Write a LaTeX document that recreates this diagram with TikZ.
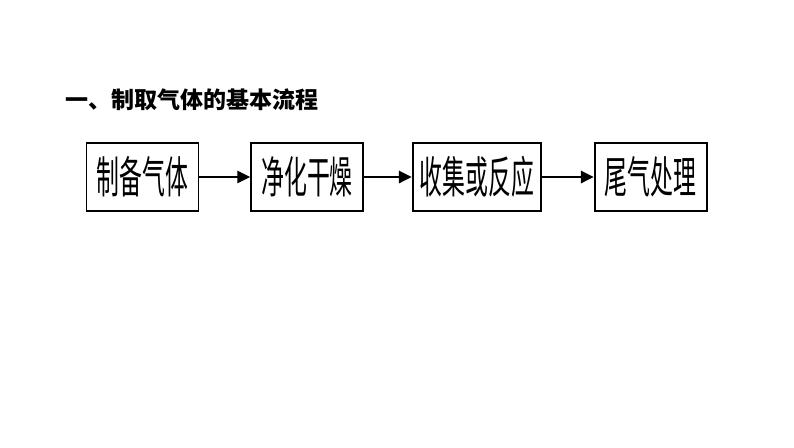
\documentclass[tikz,border=0pt]{standalone}
\usepackage{fontspec}
\setmainfont{Noto Sans CJK SC}
\newfontfamily\boxfont[FakeStretch=0.52]{Noto Sans CJK SC}
\usetikzlibrary{shapes, arrows.meta, positioning}
\tikzstyle{title} = [anchor=west, inner sep=0pt, font=\fontsize{23}{23}\selectfont\bfseries]
\tikzstyle{process} = [rectangle, minimum width=112pt, minimum height=68pt, inner xsep=7pt, text centered, draw=black, line width=1.6pt, font=\boxfont\fontsize{44}{44}\selectfont]
\tikzstyle{arrow} = [line width=2.8pt,-{Triangle[length=13pt,width=12pt]}]
\begin{document}
\begin{tikzpicture}[x=1pt, y=1pt, node distance=51pt]
    \useasboundingbox (0,0) rectangle (794,-447);
    \node (head) [title] at (65,-100) {一、制取气体的基本流程};
    \node (make) [process] at (142.5,-177) {制备气体};
    \node (clean) [process, right=51pt of make] {净化干燥};
    \node (collect) [process, right=48pt of clean] {收集或反应};
    \node (tail) [process, right=52pt of collect] {尾气处理};

    \draw [arrow] (make) -- (clean);
    \draw [arrow] (clean) -- (collect);
    \draw [arrow] (collect) -- (tail);
\end{tikzpicture}
\end{document}
